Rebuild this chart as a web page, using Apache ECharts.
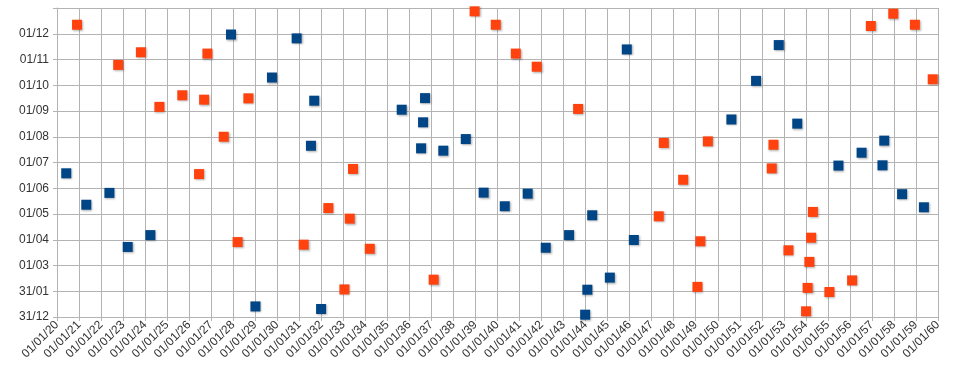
<!DOCTYPE html>
<html>
<head>
<meta charset="utf-8">
<script src="https://cdn.jsdelivr.net/npm/echarts@6/dist/echarts.min.js"></script>
<style>html,body{margin:0;padding:0;background:#fff}#c{width:960px;height:373px}</style>
</head>
<body>
<div id="c"></div>
<script>
// y tick labels (month index 0..12)
const yTickLabels = ['31/12','31/01','01/03','01/04','01/05','01/06','01/07','01/08','01/09','01/10','01/11','01/12',''];
const xMin = 2020, xMax = 2060;

// Orange series: x = year (decimal), y = month position (decimal)
const orangeX = [2020.91,2022.78,2023.81,2024.65,2025.69,2026.45,2026.68,2026.83,2027.57,2028.20,2028.69,2031.20,2032.32,2033.05,2033.29,2033.44,2034.20,2037.10,2038.96,2039.92,2040.83,2041.78,2043.66,2047.32,2047.55,2048.43,2049.08,2049.21,2049.55,2052.45,2052.53,2053.21,2054.01,2054.08,2054.16,2054.24,2054.32,2055.07,2056.10,2056.95,2057.97,2058.95,2059.76];
const orangeY = [11.35,9.79,10.28,8.16,8.61,5.55,8.44,10.23,7.00,2.91,8.49,2.81,4.23,1.07,3.82,5.75,2.65,1.45,11.87,11.35,10.23,9.72,8.08,3.91,6.76,5.33,1.17,2.94,6.82,5.77,6.69,2.59,0.22,1.13,2.14,3.08,4.08,0.97,1.42,11.30,11.78,11.35,9.23];

// Blue series
const blueX = [2020.42,2021.33,2022.38,2023.21,2024.24,2027.90,2029.01,2029.76,2030.88,2031.53,2031.68,2031.99,2035.65,2036.53,2036.62,2036.71,2037.54,2038.56,2039.37,2040.33,2041.37,2042.19,2043.25,2043.98,2044.08,2044.30,2045.10,2045.87,2046.19,2050.62,2051.74,2052.77,2053.61,2055.48,2056.53,2057.48,2057.56,2058.37,2059.36];
const blueY = [5.58,4.36,4.82,2.72,3.18,10.97,0.41,9.30,10.82,6.65,8.40,0.31,8.05,6.55,7.56,8.50,6.46,6.91,4.83,4.30,4.79,2.69,3.18,0.09,1.06,3.95,1.53,10.39,2.99,7.67,9.17,10.56,7.51,5.88,6.38,5.89,6.85,4.77,4.26];

const zip = (xs, ys) => xs.map((x, i) => [x, ys[i]]);
const gridColor = '#b3b3b3';
const font = 'Liberation Sans, Arial, sans-serif';

const chart = echarts.init(document.getElementById('c'), null, {renderer: 'canvas'});
const markerStyle = c => ({color: c, opacity: 1, shadowColor: 'rgba(0,0,0,0.3)', shadowBlur: 2, shadowOffsetX: 1, shadowOffsetY: 1});
chart.setOption({
  animation: false,
  backgroundColor: '#ffffff',
  grid: {left: 57, right: 22, top: 8, bottom: 56, containLabel: false},
  xAxis: {
    type: 'value', min: xMin, max: xMax, interval: 1,
    axisLine: {show: true, lineStyle: {color: gridColor}},
    axisTick: {show: true, length: 4, lineStyle: {color: gridColor}},
    splitLine: {show: true, lineStyle: {color: gridColor, width: 1}},
    axisLabel: {rotate: 45, margin: 6, color: '#333', fontSize: 12, fontFamily: font,
      formatter: v => '01/01/' + String(Math.round(v)).slice(2)}
  },
  yAxis: {
    type: 'value', min: 0, max: 12, interval: 1,
    axisLine: {show: true, lineStyle: {color: gridColor}},
    axisTick: {show: true, length: 4, lineStyle: {color: gridColor}},
    splitLine: {show: true, lineStyle: {color: gridColor, width: 1}},
    axisLabel: {margin: 8, color: '#333', fontSize: 12, fontFamily: font,
      formatter: v => yTickLabels[Math.round(v)]}
  },
  series: [
    {type: 'scatter', symbol: 'rect', symbolSize: 10, data: zip(orangeX, orangeY), itemStyle: markerStyle('#ff420e')},
    {type: 'scatter', symbol: 'rect', symbolSize: 10, data: zip(blueX, blueY), itemStyle: markerStyle('#004586')}
  ]
});
</script>
</body>
</html>
